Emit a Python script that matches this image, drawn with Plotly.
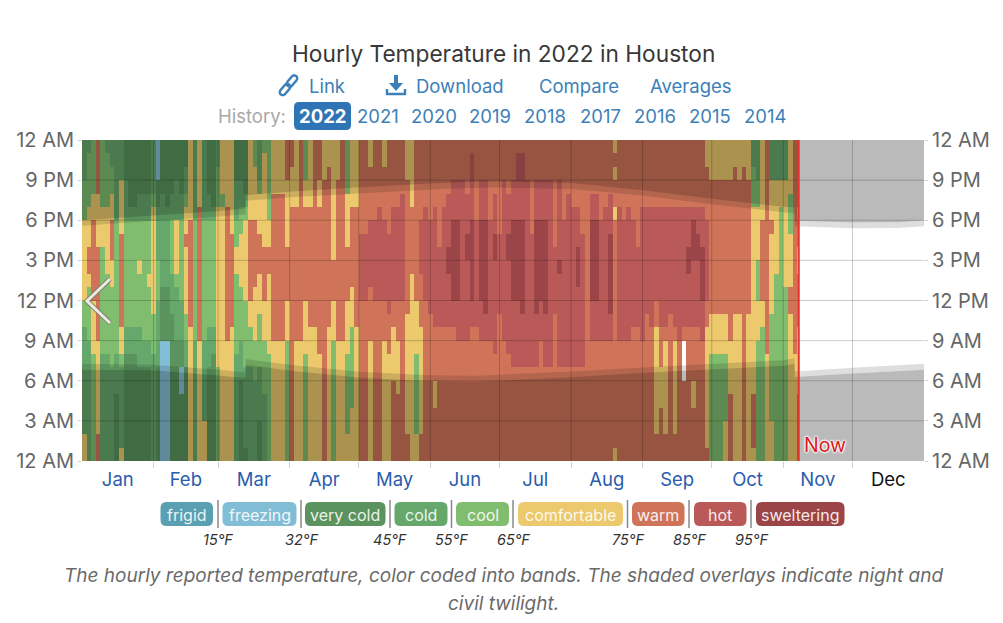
import numpy as np
import plotly.graph_objects as go

WIDTH, HEIGHT = 1003, 623
FONT = "Inter, Roboto, sans-serif"
YEAR_DAYS = 365
NOW_DAY = 310.7
DAY_STEP = 2

MONTHS = ["Jan", "Feb", "Mar", "Apr", "May", "Jun", "Jul", "Aug", "Sep", "Oct", "Nov", "Dec"]
MONTH_STARTS = [0, 31, 59, 90, 120, 151, 181, 212, 243, 273, 304, 334]
HOUR_TICKS = [0, 3, 6, 9, 12, 15, 18, 21, 24]
HOUR_LABELS = ["12 AM", "3 AM", "6 AM", "9 AM", "12 PM", "3 PM", "6 PM", "9 PM", "12 AM"]

BAND_NAMES = ["frigid", "freezing", "very cold", "cold", "cool", "comfortable", "warm", "hot", "sweltering"]
BAND_COLORS = ["#5b9fb3", "#82bdd6", "#5a935d", "#66a86b", "#80bd6e", "#ebc96c", "#cf7459", "#b95a58", "#9c4548"]
BAND_LIMITS = ["15°F", "32°F", "45°F", "55°F", "65°F", "75°F", "85°F", "95°F"]

# Band index per hour (midnight first), one string per two days; N = no report.
jan_to_mar = [
    "553333333344555555444333", "333333333444456655544443", "444444445555666666554444",
    "665555555666666655556666", "333333334444444455544444", "333333334444445555544443",
    "333333344444455666554433", "222223334444444444333333", "533333345566666665555333",
    "222222223344444444333222", "222222223344444444322222", "222222223344444444322222",
    "222222233344445444332222", "222222233444444444332222", "222222233444454444332222",
    "333333334445555555543333",
    "222222233333444333322111", "111111111222233333332222", "111111111222233333322222",
    "222222222223334444332222", "222222222333345555333222", "222221122333444444332222",
    "222222233445555565543322", "555555555566666666555555", "333333333444444444333333",
    "555555555666666666655555", "555333333444444444333333", "222222233344444444332222",
    "222222223344444444322222",
    "444444455555555555544433", "555555555555555555545555", "555555555666666666655555",
    "555555555566666665555555", "333333334444445544333222", "222222333444455554433222",
    "233333344444555555432222", "333333344455666666555555", "333333444555566666555544",
    "222333344445556665554333", "333334444555666655555554", "444444445555556655444444",
    "555555555666666666665555", "555555555666666666665555", "555555555666666666665555",
    "444444444555666655555666",
]
apr_to_may = [
    "666666666666666666655566", "555555555666666666655555", "555555555666666666666666",
    "444444445555666666655444", "555555555566666666655555", "555555555566666666666666",
    "555555556666666666655666", "666666666666666666666555", "555555555566666666666655",
    "444444444555666555555555", "555555555666666666666555", "555555555666666666666666",
    "554444445555666655554444", "555544444455566666655555", "555555555566666666655555",
    "666666666666777776666666", "666666666666777776666666", "555555555666677777666655",
    "666666666666777777666666", "666666666666777777766666", "555555555666777777666655",
    "555555556667777776666666", "666666555566777777766666", "666665555666777777766666",
    "666666666666777777776666", "665555555556666666666555", "555555555555556666655555",
    "554444445555666666666666", "665555555566667777666666", "666666666666777777766666",
]
jun_to_jul = [
    "666666666667777777666666", "666655666677777777766666", "666666666677777766666666",
    "666666666677777777766666", "666666666677778877776666", "666666666677888888777666",
    "666666666777888888777666", "666666666777777777777666", "666666666777777887776666",
    "666666666677888888777776", "666666666677777777666666", "666666666777888888777666",
    "666666666778888888777666", "666666666777777777666666", "666666667777777887776666",
    "666666666667777776666666", "666666666777777777777666", "666666667777777887776666",
    "666666677777888888777666", "666666677777888888777776", "666666677778888888777776",
    "666666677777777777777666", "666666677777777776666666", "666666677778888888777666",
    "666666666777888888777666", "666666677778888888777666", "666666677777777777777666",
    "666666666667777766666666", "666666677777778777777666", "666666677777777777666666",
    "666666677777777777776666",
]
aug_to_now = [
    "666666677777777777766666", "666666677777788877766666", "666666677777777776666666",
    "666666666666666666666666", "666666666777888888776666", "666666666777888888776666",
    "666666666777777777666666", "666666666777777777766666", "666666666778888887776666",
    "566666666666666666566565", "666666666777777777766666", "666666666777777777666666",
    "666666666777777777766666", "666666666677777777666666", "666666666677777766666666",
    "666666666777777777766666", "666666666667777777766666", "666666666677777777766666",
    "665555555566777777766666", "666655566677777777766666", "665555555677777777766666",
    "666666666667777777766666", "665555555677777777766666", "666666666777777777766666",
    "666666NNN677777777766666", "666666666677778877766666", "666655666677777888766666",
    "666666666677777887766666", "666666666777888877766666", "655555555566777777666655",
    "444444445556666666666555", "444444445556666666666555", "444444445556666666666555",
    "555444445556666666666555", "666665555666666666666555", "555555555556666666666655",
    "555555555556666666666555", "666666666666666666666655", "555555555556666666666555",
    "566665555555555555544433", "444444444555444555544333", "444444444455666666555555",
    "555555556666666666666666", "555444444445555556555333", "444444444444445555555333",
    "444444444444444444455333", "444444444444455555555333", "555555555556655554445555",
    "555555556666666666666666", "666665555566665566566666",
]

# Sun times through the year, in clock hours; the repeated days are the clock changes.
SUN_DAYS = [0, 31, 59, 70.9, 71, 90, 120, 151, 171, 181, 212, 243, 273, 304, 308.9, 309, 334, 354, 365]
DAWN = [6.83, 6.78, 6.40, 6.20, 7.20, 6.77, 6.25, 5.97, 5.92, 6.00, 6.27, 6.60, 6.87, 7.12, 7.27, 6.28, 6.55, 6.75, 6.83]
SUNRISE = [7.27, 7.20, 6.82, 6.62, 7.62, 7.20, 6.68, 6.42, 6.38, 6.45, 6.70, 7.00, 7.27, 7.53, 7.68, 6.70, 6.98, 7.18, 7.27]
SUNSET = [17.58, 17.95, 18.28, 18.45, 19.45, 19.72, 20.00, 20.30, 20.43, 20.45, 20.33, 19.85, 19.20, 18.60, 18.55, 17.55, 17.40, 17.42, 17.55]
DUSK = [18.00, 18.37, 18.67, 18.87, 19.87, 20.13, 20.45, 20.75, 20.88, 20.90, 20.78, 20.25, 19.60, 19.03, 18.97, 17.97, 17.83, 17.85, 17.98]

HISTORY_YEARS = ["2022", "2021", "2020", "2019", "2018", "2017", "2016", "2015", "2014"]
HISTORY_CENTERS = [322, 378, 434, 490, 545, 600, 655, 710, 765]
PILL_EDGES = [(160.5, 213), (222.5, 296.5), (305, 385.5), (394.5, 447.5), (456, 509),
              (518, 623), (632, 684.5), (694, 746.5), (756, 844.5)]
SEPARATORS = [218, 301, 390, 451.5, 513, 627.5, 689, 751]


def px(x):
    return x / WIDTH


def py(y):
    return 1 - y / HEIGHT


def rounded_rect(x0, y0, x1, y1, r):
    a, b, c, d = px(x0), px(x1), py(y0), py(y1)
    rx, ry = r / WIDTH, r / HEIGHT
    return (f"M{a + rx},{c} L{b - rx},{c} Q{b},{c} {b},{c - ry} L{b},{d + ry} Q{b},{d} {b - rx},{d} "
            f"L{a + rx},{d} Q{a},{d} {a},{d + ry} L{a},{c - ry} Q{a},{c} {a + rx},{c} Z")


def polyline(points, close=False):
    path = "M" + " L".join(f"{px(x)},{py(y)}" for x, y in points)
    return path + (" Z" if close else "")


def capsule(cx, cy, length, thick, angle):
    """Outline of a rotated pill, used for the chain-link glyph."""
    t = np.radians(angle)
    pts = []
    for sign, start in ((1, -90), (-1, 90)):
        for a in np.radians(np.arange(start, start + 181, 30)):
            u = sign * length / 2 + thick / 2 * np.cos(a)
            v = thick / 2 * np.sin(a)
            pts.append((cx + u * np.cos(t) - v * np.sin(t), cy + u * np.sin(t) + v * np.cos(t)))
    return polyline(pts, close=True)


def page_shape(**kwargs):
    return dict(xref="paper", yref="paper", **kwargs)


def text(x, y, s, size, color, anchor="center", italic=False, bold=False, **font_extra):
    label = f"<i>{s}</i>" if italic else s
    label = f"<b>{label}</b>" if bold else label
    return dict(xref="paper", yref="paper", x=px(x), y=py(y), text=label, showarrow=False,
                xanchor=anchor, yanchor="middle", font=dict(family=FONT, size=size, color=color, **font_extra))


columns = jan_to_mar + apr_to_may + jun_to_jul + aug_to_now
z = np.array([[np.nan if c == "N" else int(c) for c in (col + col[-1] * 24)[:24]] for col in columns]).T
day_edges = [i * DAY_STEP for i in range(len(columns))] + [NOW_DAY]
hour_edges = list(range(25))

n = len(BAND_COLORS)
colorscale = []
for i, color in enumerate(BAND_COLORS):
    colorscale += [[i / n, color], [(i + 1) / n, color]]

fig = go.Figure()
fig.add_trace(go.Heatmap(x=day_edges, y=hour_edges, z=z, colorscale=colorscale, zmin=-0.5, zmax=n - 0.5,
                         showscale=False, hoverinfo="skip"))


def overlay(lower, upper, alpha):
    fig.add_trace(go.Scatter(x=SUN_DAYS + SUN_DAYS[::-1], y=list(upper) + list(lower)[::-1], mode="lines",
                             line=dict(width=0), fill="toself", fillcolor=f"rgba(0,0,0,{alpha})",
                             hoverinfo="skip", showlegend=False))


zeros = [0] * len(SUN_DAYS)
tops = [24] * len(SUN_DAYS)
overlay(zeros, DAWN, 0.27)
overlay(DAWN, SUNRISE, 0.13)
overlay(SUNSET, DUSK, 0.13)
overlay(DUSK, tops, 0.27)
fig.add_trace(go.Scatter(x=[0], y=[0], yaxis="y2", mode="lines", opacity=0, hoverinfo="skip", showlegend=False))

shapes = []
for h in HOUR_TICKS[1:-1]:
    shapes.append(dict(type="line", xref="x", yref="y", x0=0, x1=YEAR_DAYS, y0=h, y1=h,
                       line=dict(color="rgba(0,0,0,0.2)", width=1)))
for d in MONTH_STARTS[1:]:
    shapes.append(dict(type="line", xref="x", yref="y", x0=d, x1=d, y0=0, y1=24,
                       line=dict(color="rgba(0,0,0,0.2)", width=1)))
shapes.append(dict(type="line", xref="x", yref="y", x0=NOW_DAY, x1=NOW_DAY, y0=0, y1=24,
                   line=dict(color="#e8322c", width=2)))

# Back-chevron over the left edge of the plot
chevron = [(110, 279), (87, 301), (110, 323)]
shapes.append(page_shape(type="path", path=polyline(chevron), line=dict(color="rgba(120,120,120,0.8)", width=5)))
shapes.append(page_shape(type="path", path=polyline(chevron), line=dict(color="#ecebdd", width=3)))

# Link and download glyphs
LINK_BLUE = "#3d7fb8"
shapes.append(page_shape(type="path", path=capsule(292, 81, 7, 6, -50), line=dict(color=LINK_BLUE, width=2.4)))
shapes.append(page_shape(type="path", path=capsule(285, 89.5, 7, 6, -50), line=dict(color=LINK_BLUE, width=2.4)))
shapes.append(page_shape(type="path", fillcolor=LINK_BLUE, line=dict(width=0),
                         path=polyline([(394, 75), (398, 75), (398, 83), (403, 83), (396, 91), (389, 83), (394, 83)], True)))
shapes.append(page_shape(type="path", path=polyline([(387, 89), (387, 94), (405, 94), (405, 89)]),
                         line=dict(color=LINK_BLUE, width=2.4)))

# Selected-year chip
shapes.append(page_shape(type="path", path=rounded_rect(294, 102, 351, 130, 5), fillcolor="#2f74b5", line=dict(width=0)))

# Temperature band legend
for (x0, x1), color in zip(PILL_EDGES, BAND_COLORS):
    shapes.append(page_shape(type="path", path=rounded_rect(x0, 502, x1, 526, 6), fillcolor=color, line=dict(width=0)))
for x in SEPARATORS:
    shapes.append(page_shape(type="line", x0=px(x), x1=px(x), y0=py(500), y1=py(528),
                             line=dict(color="#8a8a8a", width=1.5)))

annotations = [
    text(503, 53, "Hourly Temperature in 2022 in Houston", 22.7, "#383838"),
    text(307, 86, "Link", 18.5, LINK_BLUE, "left"),
    text(414, 86, "Download", 18.5, LINK_BLUE, "left"),
    text(537, 86, "Compare", 18.5, LINK_BLUE, "left"),
    text(648, 86, "Averages", 18.5, LINK_BLUE, "left"),
    text(216, 116, "History:", 18.5, "#a8a8a8", "left"),
    text(825, 445, "Now", 19.5, "#dc1a20", shadow="1px 0 2px #fff, -1px 0 2px #fff, 0 1px 2px #fff, 0 -1px 2px #fff"),
    text(503, 575, "The hourly reported temperature, color coded into bands. The shaded overlays indicate night and",
         19, "#6a6a6a", italic=True),
    text(503, 603, "civil twilight.", 19, "#6a6a6a", italic=True),
]
for year, center in zip(HISTORY_YEARS, HISTORY_CENTERS):
    first = year == HISTORY_YEARS[0]
    annotations.append(text(center, 116, year, 18.5, "#ffffff" if first else LINK_BLUE, bold=first))
for name, (x0, x1) in zip(BAND_NAMES, PILL_EDGES):
    annotations.append(text((x0 + x1) / 2, 514.5, name, 16, "rgba(255,255,255,0.9)"))
for limit, x in zip(BAND_LIMITS, SEPARATORS):
    annotations.append(text(x, 539, limit, 14.5, "#333333", italic=True))

month_mids = [(a + b) / 2 for a, b in zip(MONTH_STARTS, MONTH_STARTS[1:] + [YEAR_DAYS])]
month_text = [m if m != "Dec" else f'<span style="color:#111111">{m}</span>' for m in MONTHS]
y_domain = [1 - 461 / HEIGHT, 1 - 140 / HEIGHT]
hour_axis = dict(range=[0, 24], tickvals=HOUR_TICKS, ticktext=HOUR_LABELS, ticks="outside", ticklen=3,
                 tickcolor="#cfcfcf", showgrid=False, zeroline=False, showline=False,
                 tickfont=dict(family=FONT, size=20, color="#666666"))

fig.update_layout(
    width=WIDTH, height=HEIGHT, margin=dict(l=0, r=0, t=0, b=0, autoexpand=False),
    paper_bgcolor="white", plot_bgcolor="white", showlegend=False,
    font=dict(family=FONT),
    xaxis=dict(range=[0, YEAR_DAYS], domain=[82 / WIDTH, 924 / WIDTH], tickvals=month_mids, ticktext=month_text,
               ticks="", showgrid=False, zeroline=False, showline=False, ticklabelstandoff=5,
               minor=dict(tickvals=MONTH_STARTS[1:], ticks="outside", ticklen=6, tickcolor="#cfcfcf", showgrid=False),
               tickfont=dict(family=FONT, size=18.5, color="#2a5cae")),
    yaxis=dict(side="left", domain=y_domain, **hour_axis),
    yaxis2=dict(side="right", overlaying="y", anchor="x", **hour_axis),
    shapes=shapes, annotations=annotations,
)

fig.write_html("out.html")
